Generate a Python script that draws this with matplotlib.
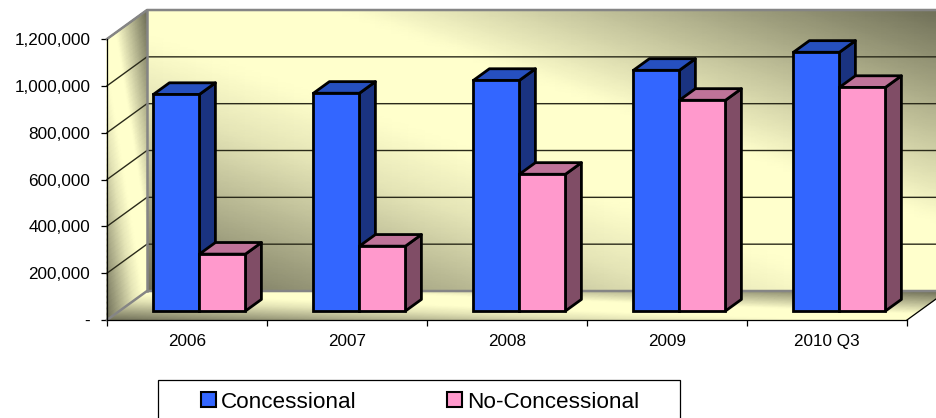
import numpy as np
import matplotlib
matplotlib.use("Agg")
import matplotlib.pyplot as plt
from matplotlib.colors import LinearSegmentedColormap
from matplotlib.patches import Polygon, Patch, Rectangle

plt.rcParams["font.family"] = "Liberation Sans"

# dane
years = ["2006", "2007", "2008", "2009", "2010 Q3"]
concessional = [925000, 930000, 985000, 1028000, 1105000]
no_concessional = [243000, 277000, 584000, 900000, 955000]
y_ticks = [0, 200000, 400000, 600000, 800000, 1000000, 1200000]
y_labels = ["-", "200,000", "400,000", "600,000", "800,000", "1,000,000", "1,200,000"]

# glebokosc scian "3D" w jednostkach danych
WALL_DX = 0.25
WALL_DY = 123800
YMAX = 1200000
BAR_W = 0.2875
BAR_START = 0.31   # gdzie zaczyna sie slupek w glebi sciany
BAR_DEPTH = 0.40

fig = plt.figure(figsize=(9.37, 4.18), dpi=100)
ax = fig.add_axes([107 / 937, 98 / 418, 800 / 937, 281 / 418])
ax.set_xlim(0, 5)
ax.set_ylim(0, YMAX)
ax.patch.set_visible(False)

wall = LinearSegmentedColormap.from_list(
    "wall", [(0, "#6f6f58"), (0.33, "#e4e4b6"), (0.45, "#ffffcc"), (0.62, "#ffffcc"), (1, "#6e6e56")]
)


def plane(x0, y0, ex, ey, fx, fy):
    # gradient po przekatnej na rownolegloboku
    s, r = np.meshgrid(np.linspace(0, 1, 50), np.linspace(0, 1, 50))
    X = x0 + s * ex + r * fx
    Y = y0 + s * ey + r * fy
    ax.pcolormesh(X, Y, (s + r) / 2, cmap=wall, vmin=0, vmax=1, shading="gouraud", clip_on=False, zorder=1)


plane(WALL_DX, WALL_DY, 5, 0, 0, YMAX)        # tylna sciana
plane(0, 0, 5, 0, WALL_DX, WALL_DY)           # podloga
plane(0, 0, WALL_DX, WALL_DY, 0, YMAX)        # lewa sciana

# siatka
for v in y_ticks[1:]:
    ax.plot([0, WALL_DX, 5 + WALL_DX], [v, v + WALL_DY, v + WALL_DY], color="#2a2a1a", lw=1.0, clip_on=False, zorder=2)

# szare krawedzie scian
gray = "#858585"
ax.plot([0, WALL_DX, 5 + WALL_DX], [YMAX, YMAX + WALL_DY, YMAX + WALL_DY], color=gray, lw=1.8, clip_on=False, zorder=3)
ax.plot([WALL_DX, WALL_DX], [WALL_DY, YMAX + WALL_DY], color=gray, lw=1.8, clip_on=False, zorder=3)
ax.plot([0, WALL_DX, 5 + WALL_DX], [0, WALL_DY, WALL_DY], color=gray, lw=1.8, clip_on=False, zorder=3)
ax.plot([5, 5 + WALL_DX], [0, WALL_DY], color="black", lw=0.9, clip_on=False, zorder=3)


def bar3d(x, value, front, side, top, z):
    dx0 = BAR_START * WALL_DX
    dy0 = BAR_START * WALL_DY
    dx = BAR_DEPTH * WALL_DX
    dy = BAR_DEPTH * WALL_DY
    left = x + dx0
    right = left + BAR_W
    base = dy0
    upper = dy0 + value
    style = dict(edgecolor="black", linewidth=2.0, joinstyle="round", clip_on=False, zorder=z)
    ax.add_patch(Polygon([(right, base), (right + dx, base + dy), (right + dx, upper + dy), (right, upper)], facecolor=side, **style))
    ax.add_patch(Polygon([(left, upper), (right, upper), (right + dx, upper + dy), (left + dx, upper + dy)], facecolor=top, **style))
    ax.bar(left, value, BAR_W, bottom=base, align="edge", facecolor=front, clip_on=False, **{k: style[k] for k in ("edgecolor", "linewidth", "zorder")})


for i in range(len(years)):
    center = i + 0.5
    bar3d(center - BAR_W, concessional[i], "#3366ff", "#1a3380", "#2650bf", 4 + 2 * i)
    bar3d(center, no_concessional[i], "#ff99cc", "#804d66", "#bf7399", 5 + 2 * i)

# osie
for s in ["top", "right"]:
    ax.spines[s].set_visible(False)
for s in ["left", "bottom"]:
    ax.spines[s].set_linewidth(0.9)
    ax.spines[s].set_zorder(3)
ax.set_yticks(y_ticks, y_labels, fontsize=12.3)
ax.set_xticks(range(6), [""] * 6)
ax.set_xticks(np.arange(len(years)) + 0.5, years, minor=True, fontsize=12.3)
ax.tick_params(axis="x", which="minor", length=0, pad=10)
ax.tick_params(axis="x", which="major", length=4, width=0.9)
ax.tick_params(axis="y", length=4, width=0.9, pad=8)

# legenda - ramka ucieta dolem rysunku
fig.add_artist(Rectangle((158 / 937, -10 / 418), 522 / 937, 48 / 418, transform=fig.transFigure, facecolor="white", edgecolor="black", linewidth=0.9))
handles = [Patch(facecolor="#3366ff", edgecolor="black", linewidth=1.5), Patch(facecolor="#ff99cc", edgecolor="black", linewidth=1.5)]
fig.legend(
    handles, ["Concessional", "No-Concessional"], ncol=2, frameon=False, fontsize=16.2,
    loc="center left", bbox_to_anchor=(201 / 937, 16 / 418), borderpad=0, borderaxespad=0,
    handlelength=0.68, handleheight=0.68, handletextpad=0.22, columnspacing=4.0,
)

fig.savefig("out.png", dpi=100)
